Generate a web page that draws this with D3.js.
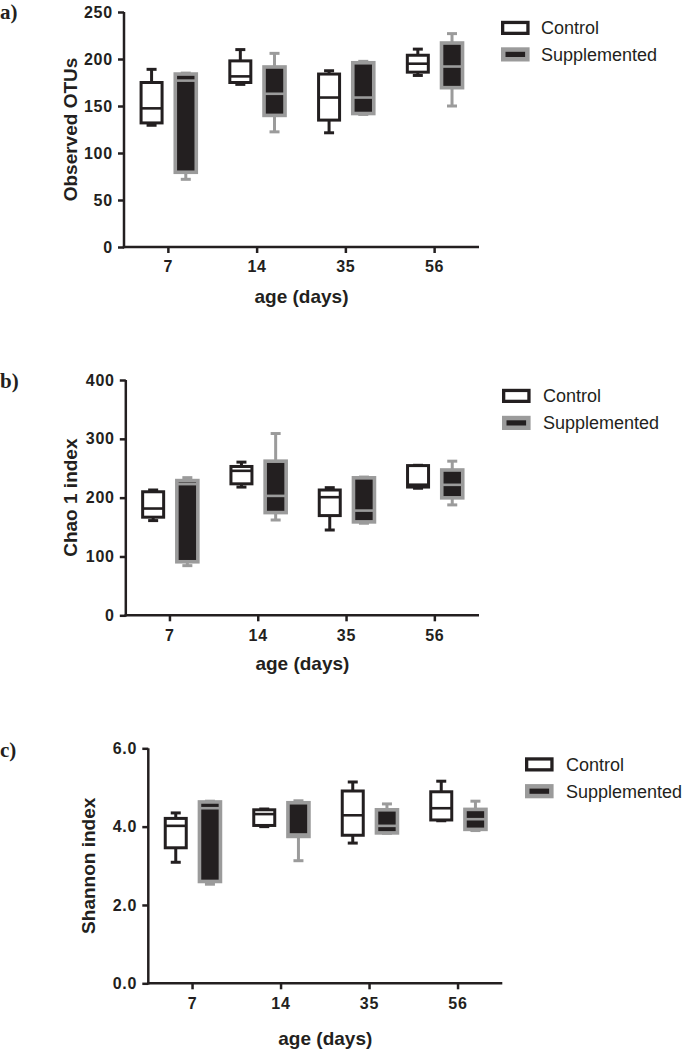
<!DOCTYPE html>
<html>
<head>
<meta charset="utf-8">
<script src="https://cdn.jsdelivr.net/npm/d3@7"></script>
<style>
  html, body { margin: 0; padding: 0; background: #fff; }
  svg { display: block; }
</style>
</head>
<body>
<svg id="chart" width="685" height="1050"></svg>
<script>
// ---------- DATA ----------
const ages = ["7", "14", "35", "56"];
const groups = ["Control", "Supplemented"];
// each entry: [whisker low, Q1, median, Q3, whisker high]
const otuControl = [[129.5,132,147.5,175,189],[173,175,181.5,198,210],[121.5,135,159,184,187.5],[182.5,186,195,204,210.5]];
const otuSupplemented = [[72,79.5,177,184,185],[122.5,140,163,191.5,206],[141,142,159,196,197.5],[150,169.5,192,217,227]];
const chaoControl = [[161,166.8,181.5,210,213],[218,223.5,245.6,253,260.4],[145,169.5,200.8,213,217],[216,218,222,254.5,255]];
const chaoSupplemented = [[84.4,91,223,229,234],[162,174.6,203,262,309],[156.5,158.8,178,233.7,235],[187.7,199.7,221.8,247,262]];
const shannonControl = [[3.09,3.46,4.02,4.21,4.35],[4.0,4.03,4.32,4.43,4.45],[3.58,3.78,4.29,4.91,5.14],[4.15,4.17,4.47,4.89,5.16]];
const shannonSupplemented = [[2.53,2.60,4.47,4.63,4.65],[3.13,3.75,3.8,4.61,4.66],[3.83,3.84,4.02,4.43,4.58],[3.90,3.93,4.19,4.44,4.65]];
const otuTicks = [0, 50, 100, 150, 200, 250];
const chaoTicks = [0, 100, 200, 300, 400];
const shannonTicks = [0, 2, 4, 6];
const panelLabels = ["a)", "b)", "c)"];
const yTitles = ["Observed OTUs", "Chao 1 index", "Shannon index"];
const xTitle = "age (days)";

// ---------- STYLE ----------
const DARK = "#231f20";
const GREY = "#9b9b9b";
const SANS = "'Liberation Sans', Arial, Helvetica, sans-serif";
const SERIF = "'Liberation Serif', 'Times New Roman', serif";

const svg = d3.select("#chart");
svg.append("rect").attr("width", 685).attr("height", 1050).attr("fill", "#fff");

const panels = [
  { label: panelLabels[0], yTitle: yTitles[0], control: otuControl, supp: otuSupplemented, ticks: otuTicks, fmt: d3.format("d"),
    left: 124, right: 479, top: 12, bottom: 247, yTitleX: 70.5, xTitleY: 303, labelY: 19,
    legX: 501, legY: [28, 54.5], legTextX: 541 },
  { label: panelLabels[1], yTitle: yTitles[1], control: chaoControl, supp: chaoSupplemented, ticks: chaoTicks, fmt: d3.format("d"),
    left: 125.8, right: 479, top: 380, bottom: 615.3, yTitleX: 70.5, xTitleY: 670, labelY: 388,
    legX: 502, legY: [396, 423], legTextX: 543 },
  { label: panelLabels[2], yTitle: yTitles[2], control: shannonControl, supp: shannonSupplemented, ticks: shannonTicks, fmt: d3.format(".1f"),
    left: 148.3, right: 502.3, top: 748.3, bottom: 983.3, yTitleX: 88.5, xTitleY: 1045, labelY: 757,
    legX: 525, legY: [764.5, 791.3], legTextX: 566 }
];

const groupStyle = {
  Control:      { stroke: DARK, fill: "#fff", boxSW: 3, medSW: 2.6, whiskSW: 3 },
  Supplemented: { stroke: GREY, fill: DARK,   boxSW: 3.6, medSW: 2.6, whiskSW: 3 }
};

panels.forEach(p => {
  const g = svg.append("g");
  const x = d3.scaleBand().domain(ages).range([p.left, p.right]).padding(0);
  const xg = d3.scalePoint().domain(groups).range([-16.8, 17.4]);
  const y = d3.scaleLinear().domain([p.ticks[0], p.ticks[p.ticks.length - 1]]).range([p.bottom, p.top]);

  // axes
  const yAxis = g.append("g").attr("transform", `translate(${p.left},0)`)
    .call(d3.axisLeft(y).tickValues(p.ticks).tickFormat(p.fmt).tickSize(6).tickPadding(5).tickSizeOuter(0));
  const xAxis = g.append("g").attr("transform", `translate(0,${p.bottom})`)
    .call(d3.axisBottom(x).tickSize(6).tickPadding(8).tickSizeOuter(0));
  [yAxis, xAxis].forEach(ax => {
    ax.select(".domain").attr("stroke", DARK).attr("stroke-width", 2.5);
    ax.selectAll(".tick line").attr("stroke", DARK).attr("stroke-width", 2.5);
    ax.selectAll(".tick text").attr("fill", DARK).attr("font-family", SANS)
      .attr("font-weight", "bold").attr("font-size", 16).attr("letter-spacing", "0.8px");
  });
  // extend the domain lines to meet at corner
  yAxis.select(".domain").attr("d", `M0,${p.top}V${p.bottom + 1.2}`);
  xAxis.select(".domain").attr("d", `M${p.left - 1.2},0H${p.right}`);

  // titles
  g.append("text")
    .attr("transform", `translate(${p.yTitleX},${(p.top + p.bottom) / 2}) rotate(-90)`)
    .attr("text-anchor", "middle").attr("dy", "0.35em")
    .attr("font-family", SANS).attr("font-weight", "bold").attr("font-size", 19).attr("fill", DARK)
    .text(p.yTitle);
  g.append("text")
    .attr("x", (p.left + p.right) / 2).attr("y", p.xTitleY)
    .attr("text-anchor", "middle")
    .attr("font-family", SANS).attr("font-weight", "bold").attr("font-size", 19).attr("fill", DARK)
    .text(xTitle);
  g.append("text")
    .attr("x", 0).attr("y", p.labelY)
    .attr("font-family", SERIF).attr("font-weight", "bold").attr("font-size", 21).attr("fill", DARK)
    .text(p.label);

  // boxes
  const series = [{ name: "Control", data: p.control }, { name: "Supplemented", data: p.supp }];
  const boxW = 21, capW = 10;
  series.forEach(s => {
    const st = groupStyle[s.name];
    s.data.forEach((d, i) => {
      const cx = x(ages[i]) + x.bandwidth() / 2 + xg(s.name);
      const [lo, q1, med, q3, hi] = d;
      const bg = g.append("g");
      // whiskers
      bg.append("line").attr("x1", cx).attr("x2", cx).attr("y1", y(lo)).attr("y2", y(hi))
        .attr("stroke", st.stroke).attr("stroke-width", st.whiskSW);
      bg.append("line").attr("x1", cx - capW / 2).attr("x2", cx + capW / 2).attr("y1", y(lo)).attr("y2", y(lo))
        .attr("stroke", st.stroke).attr("stroke-width", st.whiskSW);
      bg.append("line").attr("x1", cx - capW / 2).attr("x2", cx + capW / 2).attr("y1", y(hi)).attr("y2", y(hi))
        .attr("stroke", st.stroke).attr("stroke-width", st.whiskSW);
      // box
      bg.append("rect").attr("x", cx - boxW / 2).attr("width", boxW)
        .attr("y", y(q3)).attr("height", Math.max(0.5, y(q1) - y(q3)))
        .attr("fill", st.fill).attr("stroke", st.stroke).attr("stroke-width", st.boxSW);
      // median
      bg.append("line").attr("x1", cx - boxW / 2).attr("x2", cx + boxW / 2).attr("y1", y(med)).attr("y2", y(med))
        .attr("stroke", st.stroke).attr("stroke-width", st.medSW);
    });
  });

  // legend
  groups.forEach((name, k) => {
    const st = groupStyle[name];
    const cy = p.legY[k];
    const sw = name === "Control" ? 3.3 : 4.5;
    g.append("rect").attr("x", p.legX + sw / 2).attr("y", cy - 7.2 + sw / 2)
      .attr("width", 28.6 - sw).attr("height", 14.2 - sw)
      .attr("fill", st.fill).attr("stroke", st.stroke).attr("stroke-width", sw);
    g.append("text").attr("x", p.legTextX).attr("y", cy).attr("dy", "0.36em")
      .attr("font-family", SANS).attr("font-size", 18).attr("fill", DARK)
      .text(name);
  });
});
</script>
</body>
</html>
